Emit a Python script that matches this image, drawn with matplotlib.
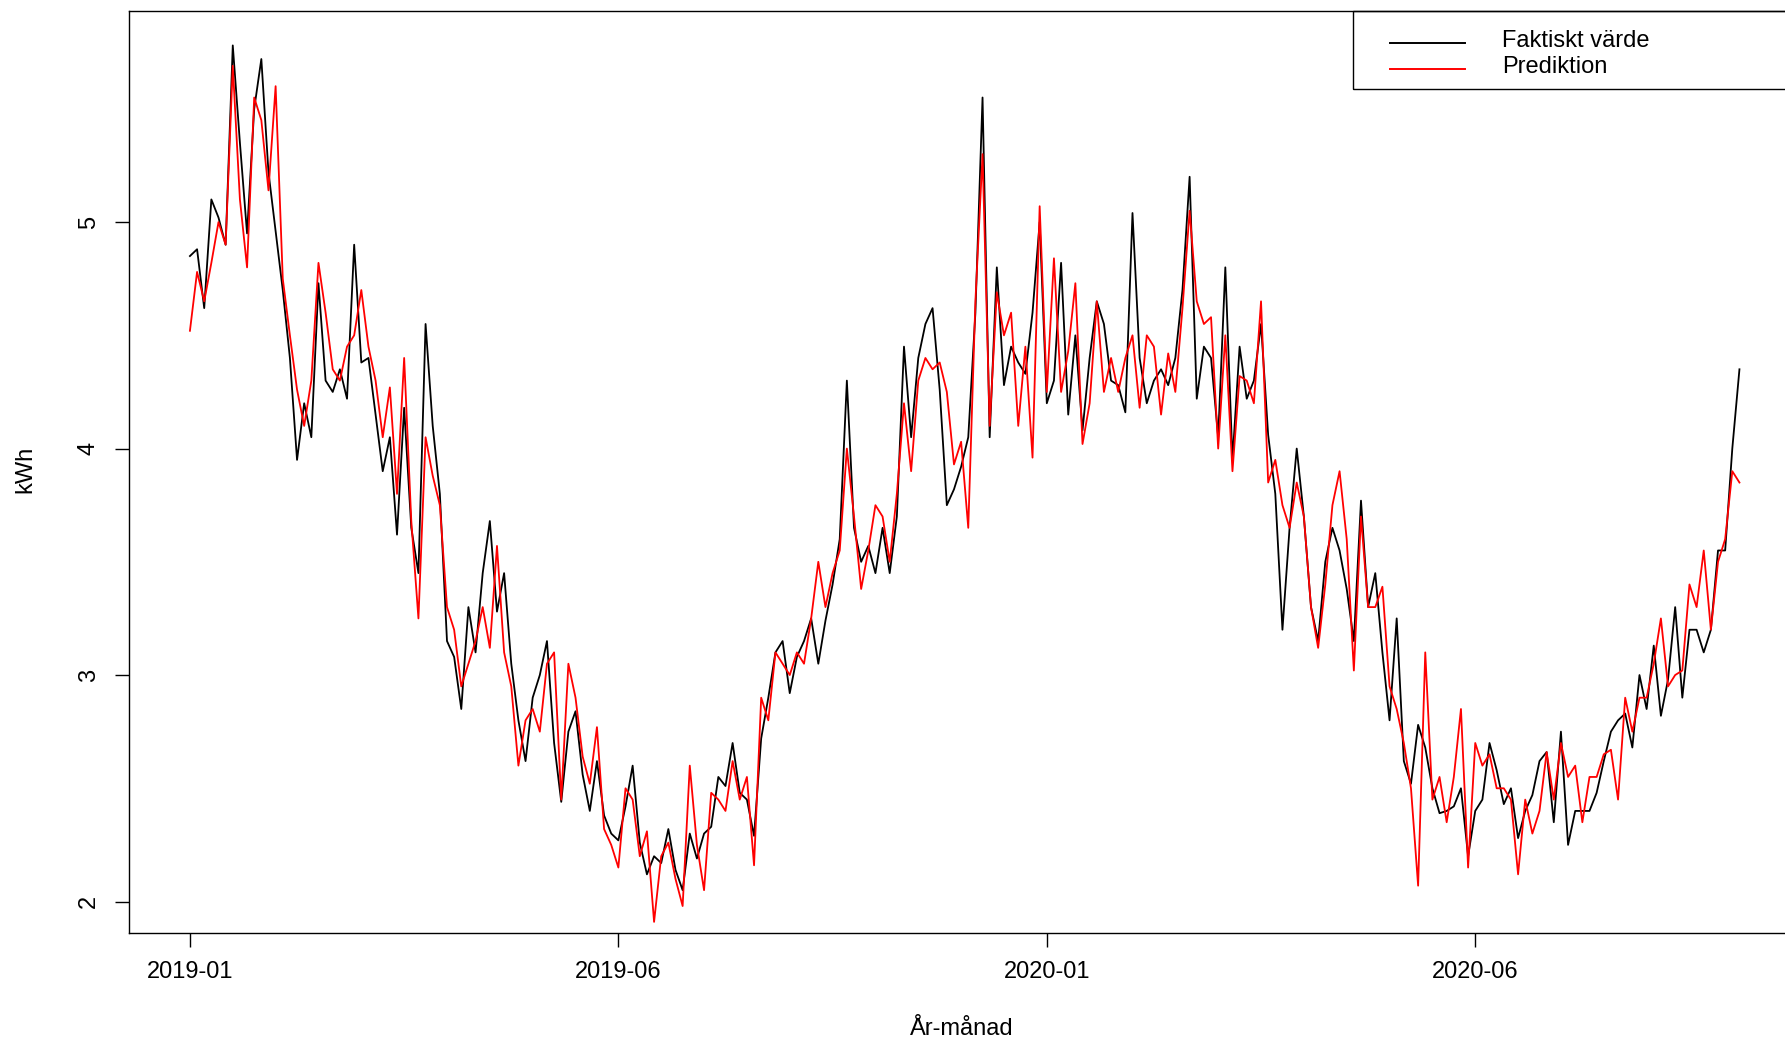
import numpy as np
import matplotlib
matplotlib.use("Agg")
import matplotlib.pyplot as plt
from matplotlib.lines import Line2D
from matplotlib.patches import Rectangle

plt.rcParams['font.family'] = ['Liberation Sans', 'DejaVu Sans']

# dagar sedan 2019-01-01, vart tredje dygn
step = 3

faktiskt = [
    # jan - mars 2019
    4.85, 4.88, 4.62, 5.10, 5.02, 4.90, 5.78, 5.35, 4.95, 5.50, 5.72, 5.22, 4.96, 4.70, 4.40,
    3.95, 4.20, 4.05, 4.73, 4.30, 4.25, 4.35, 4.22, 4.90, 4.38, 4.40, 4.15, 3.90, 4.05,
    # mars - juni 2019
    3.62, 4.18, 3.65, 3.45, 4.55, 4.10, 3.80, 3.15, 3.08, 2.85, 3.30, 3.10, 3.45, 3.68, 3.28,
    3.45, 3.05, 2.80, 2.62, 2.90, 3.00, 3.15, 2.70, 2.44, 2.75, 2.84,
    # juni - aug 2019
    2.56, 2.40, 2.62, 2.38, 2.30, 2.27, 2.42, 2.60, 2.26, 2.12, 2.20, 2.17, 2.32, 2.14, 2.05,
    2.30, 2.19, 2.30, 2.33, 2.55, 2.51, 2.70, 2.48, 2.45, 2.29,
    # aug - nov 2019
    2.72, 2.90, 3.10, 3.15, 2.92, 3.08, 3.15, 3.25, 3.05, 3.24, 3.40, 3.60, 4.30, 3.65, 3.50,
    3.57, 3.45, 3.65, 3.45, 3.70, 4.45, 4.05, 4.40, 4.55, 4.62, 4.26, 3.75,
    # nov 2019 - feb 2020
    3.82, 3.92, 4.05, 4.60, 5.55, 4.05, 4.80, 4.28, 4.45, 4.38, 4.33, 4.60, 5.00, 4.20, 4.30,
    4.82, 4.15, 4.50, 4.08, 4.40, 4.65, 4.55, 4.30, 4.28, 4.16, 5.04, 4.40,
    # feb - apr 2020
    4.20, 4.30, 4.35, 4.28, 4.40, 4.70, 5.20, 4.22, 4.45, 4.40, 4.05, 4.80, 3.95, 4.45, 4.22,
    4.30, 4.55, 4.06, 3.80, 3.20, 3.65, 4.00, 3.70, 3.30, 3.15, 3.50, 3.65,
    # maj - juli 2020
    3.55, 3.38, 3.15, 3.77, 3.30, 3.45, 3.10, 2.80, 3.25, 2.62, 2.52, 2.78, 2.68, 2.50, 2.39,
    2.40, 2.42, 2.50, 2.20, 2.40, 2.45, 2.70, 2.58, 2.43, 2.50, 2.28, 2.40,
    # juli - okt 2020
    2.47, 2.62, 2.66, 2.35, 2.75, 2.25, 2.40, 2.40, 2.40, 2.48, 2.62, 2.75, 2.80, 2.83, 2.68,
    3.00, 2.85, 3.13, 2.82, 2.98, 3.30, 2.90, 3.20, 3.20, 3.10, 3.20, 3.55, 3.55, 4.00, 4.35,
]

prediktion = [
    4.52, 4.78, 4.65, 4.82, 5.00, 4.90, 5.69, 5.10, 4.80, 5.55, 5.45, 5.14, 5.60, 4.75, 4.50,
    4.26, 4.10, 4.30, 4.82, 4.60, 4.35, 4.30, 4.45, 4.50, 4.70, 4.45, 4.30, 4.05, 4.27,
    3.80, 4.40, 3.68, 3.25, 4.05, 3.88, 3.75, 3.30, 3.20, 2.95, 3.05, 3.15, 3.30, 3.12, 3.57,
    3.10, 2.95, 2.60, 2.80, 2.85, 2.75, 3.05, 3.10, 2.45, 3.05, 2.90,
    2.64, 2.52, 2.77, 2.32, 2.25, 2.15, 2.50, 2.45, 2.20, 2.31, 1.91, 2.20, 2.26, 2.10, 1.98,
    2.60, 2.25, 2.05, 2.48, 2.45, 2.40, 2.62, 2.45, 2.55, 2.16,
    2.90, 2.80, 3.10, 3.05, 3.00, 3.10, 3.05, 3.25, 3.50, 3.30, 3.45, 3.55, 4.00, 3.70, 3.38,
    3.55, 3.75, 3.70, 3.50, 3.80, 4.20, 3.90, 4.30, 4.40, 4.35, 4.38, 4.25,
    3.93, 4.03, 3.65, 4.65, 5.30, 4.10, 4.69, 4.50, 4.60, 4.10, 4.45, 3.96, 5.07, 4.25, 4.84,
    4.25, 4.43, 4.73, 4.02, 4.20, 4.65, 4.25, 4.40, 4.25, 4.40, 4.50, 4.18,
    4.50, 4.45, 4.15, 4.42, 4.25, 4.62, 5.05, 4.65, 4.55, 4.58, 4.00, 4.50, 3.90, 4.32, 4.30,
    4.20, 4.65, 3.85, 3.95, 3.75, 3.65, 3.85, 3.70, 3.30, 3.12, 3.40, 3.75,
    3.90, 3.60, 3.02, 3.70, 3.30, 3.30, 3.39, 2.95, 2.85, 2.70, 2.50, 2.07, 3.10, 2.45, 2.55,
    2.35, 2.55, 2.85, 2.15, 2.70, 2.60, 2.65, 2.50, 2.50, 2.45, 2.12, 2.45,
    2.30, 2.40, 2.66, 2.45, 2.70, 2.55, 2.60, 2.35, 2.55, 2.55, 2.65, 2.67, 2.45, 2.90, 2.75,
    2.90, 2.90, 3.05, 3.25, 2.95, 3.00, 3.02, 3.40, 3.30, 3.55, 3.20, 3.50, 3.60, 3.90, 3.85,
]

tick_days = [0, 180, 360, 540]
tick_labels = ["2019-01", "2019-06", "2020-01", "2020-06"]
y_ticks = [2, 3, 4, 5]

W, H = 1785, 1041
fig = plt.figure(figsize=(W / 100, H / 100), dpi=100)
ax = fig.add_axes([129 / W, 108 / H, 1659 / W, 922 / H])

dagar = np.arange(len(faktiskt)) * step
ax.plot(dagar, faktiskt, color="black", lw=1.3)
ax.plot(dagar, prediktion, color="red", lw=1.3)

ax.set_xlim(-25.6, 671.4)
ax.set_ylim(1.861, 5.932)
ax.set_xticks(tick_days)
ax.set_xticklabels(tick_labels)
ax.set_yticks(y_ticks)
ax.set_yticklabels([str(v) for v in y_ticks], rotation=90, va="center")
ax.tick_params(direction="out", length=10, width=1, labelsize=17, color="black")
ax.tick_params(axis="x", pad=10)
ax.tick_params(axis="y", pad=11)
for s in ax.spines.values():
    s.set_linewidth(1.0)

fig.text(962 / W, 1 - 1029 / H, "År-månad", ha="center", va="center", fontsize=17)
fig.text(25 / W, 1 - 469 / H, "kWh", ha="center", va="center", rotation=90, fontsize=17)

# legend som i R: ram mot övre högra hörnet
x0, y0, y1 = 1353 / W, 1 - 89 / H, 1 - 11 / H
fig.add_artist(Rectangle((x0, y0), 1.05 - x0, y1 - y0, transform=fig.transFigure,
                         fill=False, edgecolor="black", lw=1.0))
for i, (lab, col) in enumerate([("Faktiskt värde", "black"), ("Prediktion", "red")]):
    yy = 1 - (41 + 26 * i) / H
    fig.add_artist(Line2D([1390 / W, 1465 / W], [yy - 2 / H, yy - 2 / H],
                          transform=fig.transFigure, color=col, lw=1.4))
    fig.text(1502 / W, yy, lab, ha="left", va="center", fontsize=17)

fig.savefig("out.png", dpi=100)
